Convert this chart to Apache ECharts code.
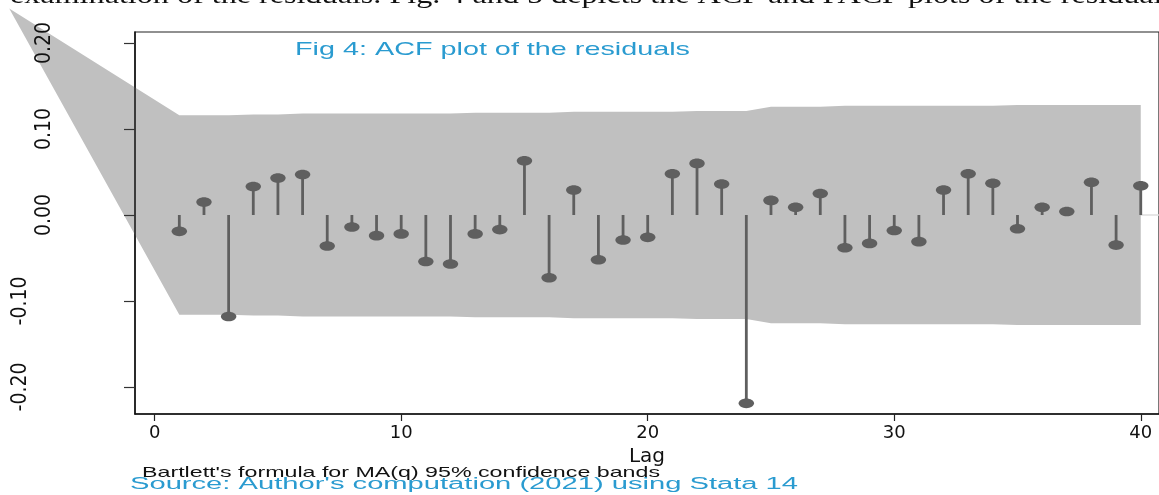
<!DOCTYPE html>
<html>
<head>
<meta charset="utf-8">
<script src="https://cdn.jsdelivr.net/npm/echarts@6/dist/echarts.min.js"></script>
<style>
  html, body { margin: 0; padding: 0; background: #fff; }
  #chart { width: 1159px; height: 495px; }
</style>
</head>
<body>
<div id="chart"></div>
<script>
// lags 1..40
const lags = [1, 2, 3, 4, 5, 6, 7, 8, 9, 10, 11, 12, 13, 14, 15, 16, 17, 18, 19, 20,
  21, 22, 23, 24, 25, 26, 27, 28, 29, 30, 31, 32, 33, 34, 35, 36, 37, 38, 39, 40];
// autocorrelations of the residuals
const acf = [-0.019, 0.015, -0.118, 0.033, 0.043, 0.047, -0.036, -0.014, -0.024, -0.022,
  -0.054, -0.057, -0.022, -0.017, 0.063, -0.073, 0.029, -0.052, -0.029, -0.026,
  0.048, 0.060, 0.036, -0.219, 0.017, 0.009, 0.025, -0.038, -0.033, -0.018,
  -0.031, 0.029, 0.048, 0.037, -0.016, 0.009, 0.004, 0.038, -0.035, 0.034];
// half width of the 95% band (Bartlett), per lag
const band = [0.116, 0.116, 0.116, 0.117, 0.117, 0.118, 0.118, 0.118, 0.118, 0.118,
  0.118, 0.118, 0.119, 0.119, 0.119, 0.119, 0.120, 0.120, 0.120, 0.120,
  0.120, 0.121, 0.121, 0.121, 0.126, 0.126, 0.126, 0.127, 0.127, 0.127,
  0.127, 0.127, 0.127, 0.127, 0.128, 0.128, 0.128, 0.128, 0.128, 0.128];
// where the band's two edges meet, off to the upper left of the frame
const bandApex = [-5.9, 0.24];
const xTicks = [0, 10, 20, 30, 40];
const yTicks = [-0.2, -0.1, 0, 0.1, 0.2];

const STEM = '#5f5f5f';
const BAND = '#c0c0c0';
const BLUE = '#2a9bd0';

// stretch a line of text to the width it takes in the picture
const measure = document.createElement('canvas').getContext('2d');
const fitScale = (text, font, width) => {
  measure.font = font;
  return width / measure.measureText(text).width;
};

const textItem = (text, font, color, x, y, width) => ({
  type: 'text',
  x: x,
  y: y,
  scaleX: fitScale(text, font, width),
  silent: true,
  style: { text: text, font: font, fill: color, align: 'left', verticalAlign: 'middle' },
});

const topLine = 'examination of the residuals. Fig. 4 and 5 depicts the ACF and PACF plots of the residuals';
const titleText = 'Fig 4: ACF plot of the residuals';
const noteText = "Bartlett's formula for MA(q) 95% confidence bands";
const sourceText = "Source: Author's computation (2021) using Stata 14";

const option = {
  animation: false,
  grid: {
    left: 135,
    right: -2,
    top: 32,
    bottom: 81,
    show: true,
    borderColor: '#222',
    borderWidth: 1.2,
  },
  xAxis: {
    type: 'value',
    min: -0.798,
    max: 40.74,
    z: 5,
    name: 'Lag',
    nameLocation: 'middle',
    nameGap: 22,
    nameTextStyle: { fontFamily: 'DejaVu Sans', fontSize: 20, color: '#111' },
    axisLine: { show: true, onZero: false, lineStyle: { color: '#111', width: 1.5 } },
    axisTick: { show: true, length: 7, customValues: xTicks, lineStyle: { color: '#222', width: 1.2 } },
    axisLabel: {
      customValues: xTicks,
      margin: 10,
      fontFamily: 'DejaVu Sans',
      fontSize: 18,
      color: '#111',
    },
    splitLine: { show: false },
  },
  yAxis: {
    type: 'value',
    min: -0.2314,
    max: 0.2128,
    z: 5,
    axisLine: { show: true, onZero: false, lineStyle: { color: '#111', width: 1.5 } },
    axisTick: { show: true, length: 11, customValues: yTicks, lineStyle: { color: '#333', width: 1.2 } },
    axisLabel: {
      customValues: yTicks,
      rotate: 90,
      margin: 78,
      lineHeight: 24,
      fontFamily: '"Liberation Sans Narrow", "DejaVu Sans Condensed", sans-serif',
      fontSize: 21,
      color: '#111',
      // negative labels sit further out in the picture
      formatter: v => (v < 0 ? v.toFixed(2) + '\n ' : v.toFixed(2)),
    },
    splitLine: { show: false },
  },
  series: [
    {
      // zero line and confidence band
      type: 'custom',
      z: 1,
      clip: false,
      silent: true,
      data: [0],
      renderItem: (params, api) => {
        const cs = params.coordSys;
        const y0 = api.coord([0, 0])[1];
        const pts = [api.coord(bandApex)];
        lags.forEach((l, i) => pts.push(api.coord([l, band[i]])));
        for (let i = lags.length - 1; i >= 0; i--) pts.push(api.coord([lags[i], -band[i]]));
        return {
          type: 'group',
          children: [
            {
              type: 'line',
              shape: { x1: cs.x, y1: y0, x2: cs.x + cs.width, y2: y0 },
              style: { stroke: '#dedede', lineWidth: 1.5 },
            },
            { type: 'polygon', shape: { points: pts }, style: { fill: BAND } },
          ],
        };
      },
    },
    {
      // spikes
      type: 'custom',
      z: 3,
      silent: true,
      data: lags.map((l, i) => [l, acf[i]]),
      renderItem: (params, api) => {
        const base = api.coord([api.value(0), 0]);
        const tip = api.coord([api.value(0), api.value(1)]);
        return {
          type: 'group',
          children: [
            {
              type: 'line',
              shape: { x1: base[0], y1: base[1], x2: tip[0], y2: tip[1] },
              style: { stroke: STEM, lineWidth: 2.8 },
            },
            { type: 'ellipse', shape: { cx: tip[0], cy: tip[1], rx: 7.7, ry: 4.8 }, style: { fill: STEM } },
          ],
        };
      },
    },
  ],
  graphic: [
    textItem(topLine, '26px "Liberation Serif"', '#111', 10, -3.5, 1165),
    textItem(titleText, '19px "Liberation Sans"', BLUE, 295, 50, 395),
    textItem(noteText, '15px "Liberation Sans"', '#111', 142, 473, 518),
    textItem(sourceText, '16px "Liberation Sans"', BLUE, 130, 485, 668),
  ],
};

const chart = echarts.init(document.getElementById('chart'));
chart.setOption(option);
</script>
</body>
</html>
